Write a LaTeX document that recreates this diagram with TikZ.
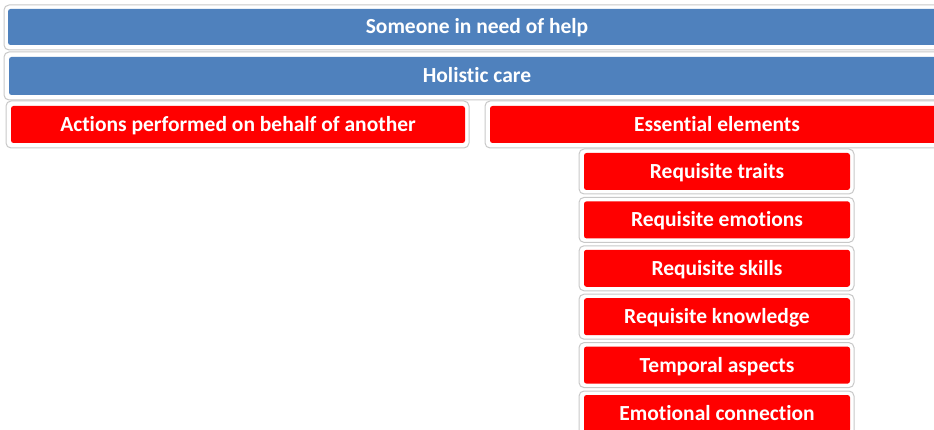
\documentclass[tikz,border=0pt]{standalone}
\usepackage{fontspec}
\setmainfont{Carlito}[Ligatures=NoCommon]
\definecolor{accblue}{HTML}{4F81BD}
\definecolor{accred}{HTML}{FF0000}
\definecolor{framegray}{HTML}{C8C8C8}
\tikzset{
  frame/.style={draw=framegray, line width=1pt, fill=white, rounded corners=5pt},
  boxbase/.style={rounded corners=2.5pt, text=white, font=\bfseries\fontsize{21.5}{24}\selectfont, inner sep=0pt, text height=14pt, text depth=0pt},
  bluebox/.style={boxbase, fill=accblue},
  redbox/.style={boxbase, fill=accred},
}
\begin{document}
\begin{tikzpicture}[x=1pt,y=-1pt]
\useasboundingbox (0,0) rectangle (934,430);
\clip (0,0) rectangle (934,430);
% frames
\draw[frame] (4,5) rectangle (950,50);
\draw[frame] (4,52) rectangle (950,100);
\draw[frame] (6,101) rectangle (469,148);
\draw[frame] (485,101) rectangle (950,148);
\foreach \i in {0,...,5}{
  \draw[frame] (579,{149+48.4*\i}) rectangle (854,{194+48.4*\i});
}
% boxes
\node[bluebox, minimum width=938pt, minimum height=36pt] (help) at (477,27) {Someone in need of help};
\node[bluebox, minimum width=936pt, minimum height=38pt] (holistic) at (477,76) {Holistic care};
\node[redbox, minimum width=454pt, minimum height=37pt] (actions) at (238,124.5) {Actions performed on behalf of another};
\node[redbox, minimum width=454pt, minimum height=37pt] (essential) at (717,124.5) {Essential elements};
\foreach \t [count=\i from 0] in {Requisite traits, Requisite emotions, Requisite skills, Requisite knowledge, Temporal aspects, Emotional connection}{
  \node[redbox, minimum width=266pt, minimum height=37pt] (c\i) at (717,{171.5+48.4*\i}) {\t};
}
\end{tikzpicture}
\end{document}
